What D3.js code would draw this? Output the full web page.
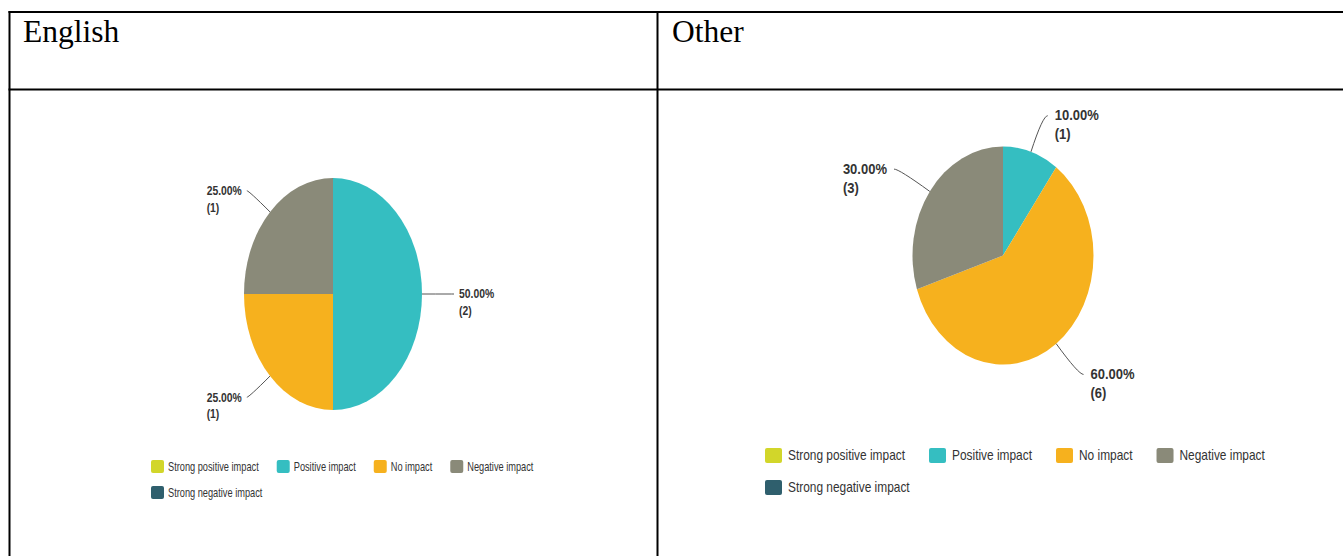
<!DOCTYPE html>
<html>
<head>
<meta charset="utf-8">
<script src="https://cdn.jsdelivr.net/npm/d3@7"></script>
<style>
  body { margin: 0; background: #fff; }
  svg { display: block; }
</style>
</head>
<body>
<svg id="chart" width="1343" height="556"></svg>
<script>
// Response categories, shared by both panels
const categories = ["Strong positive impact", "Positive impact", "No impact", "Negative impact", "Strong negative impact"];
const categoryColors = ["#d2d62a", "#35bec1", "#f6b11e", "#8a8a79", "#2f5f6d"];

// Panel headings
const panelTitles = ["English", "Other"];

// Response counts per category
const englishCounts = [0, 2, 1, 1, 0];
const otherCounts = [0, 1, 6, 3, 0];

const svg = d3.select("#chart");

// ---- table frame ----
const frame = svg.append("g").attr("stroke", "#000").attr("fill", "none");
frame.append("line").attr("x1", 8.5).attr("x2", 1343).attr("y1", 12).attr("y2", 12).attr("stroke-width", 2);
frame.append("line").attr("x1", 8.5).attr("x2", 1343).attr("y1", 89.5).attr("y2", 89.5).attr("stroke-width", 2);
frame.append("line").attr("x1", 9.5).attr("x2", 9.5).attr("y1", 11).attr("y2", 556).attr("stroke-width", 2);
frame.append("line").attr("x1", 657.5).attr("x2", 657.5).attr("y1", 11).attr("y2", 556).attr("stroke-width", 2);

// headings
const headX = [23, 672];
panelTitles.forEach((t, i) => {
  svg.append("text")
    .attr("x", headX[i]).attr("y", 42)
    .attr("font-family", "'Liberation Serif', 'Times New Roman', serif")
    .attr("font-size", 31.5)
    .attr("fill", "#000")
    .text(t);
});

// ---- panel settings ----
const panels = [
  {
    counts: englishCounts,
    cx: 333, cy: 294, rx: 89, ry: 116,
    ext: 30, elbowRun: 2, textGap: 5,
    labelSize: 12.5, labelScale: 0.83, labelLineGap: 16.5,
    legendX: 151, legendY: [466.5, 492.5], legendMaxX: 555,
    swW: 13, swH: 13, swTextGap: 4, itemGap: 18,
    legendSize: 12, legendScale: 0.77
  },
  {
    counts: otherCounts,
    cx: 1003, cy: 255.5, rx: 90.5, ry: 109,
    ext: 38, elbowRun: 5, textGap: 7,
    labelSize: 14, labelScale: 0.93, labelLineGap: 19,
    legendX: 765, legendY: [455.5, 487.5], legendMaxX: 1290,
    swW: 17, swH: 15, swTextGap: 6, itemGap: 24,
    legendSize: 14, legendScale: 0.85
  }
];

const sansFont = "'Liberation Sans', Arial, sans-serif";

panels.forEach(p => {
  const data = categories.map((c, i) => ({ name: c, value: p.counts[i], color: categoryColors[i] }));
  const total = d3.sum(data, d => d.value);

  const pie = d3.pie().sort(null).value(d => d.value).startAngle(0).endAngle(2 * Math.PI);
  const arcs = pie(data);
  const arc = d3.arc().innerRadius(0).outerRadius(p.ry);

  // pie body, drawn on a circle and squeezed horizontally to an ellipse
  svg.append("g")
    .attr("transform", `translate(${p.cx},${p.cy}) scale(${p.rx / p.ry},1)`)
    .selectAll("path")
    .data(arcs.filter(a => a.value > 0))
    .join("path")
    .attr("d", arc)
    .attr("fill", d => d.data.color);

  // leader lines and value labels
  const labels = svg.append("g");
  arcs.filter(a => a.value > 0).forEach(a => {
    const mid = (a.startAngle + a.endAngle) / 2;
    const s = Math.sin(mid), c = Math.cos(mid);
    const p0 = [p.cx + p.rx * s, p.cy - p.ry * c];
    const elbow = [p.cx + (p.rx + p.ext) * s, p.cy - (p.ry + p.ext) * c];
    const side = s >= 0 ? 1 : -1;
    const end = [elbow[0] + side * p.elbowRun, elbow[1]];

    const path = d3.path();
    path.moveTo(p0[0], p0[1]);
    path.quadraticCurveTo(elbow[0], elbow[1], end[0], end[1]);
    labels.append("path")
      .attr("d", path.toString())
      .attr("fill", "none")
      .attr("stroke", "#555")
      .attr("stroke-width", 1);

    const pct = (a.value / total * 100).toFixed(2) + "%";
    const lines = [pct, `(${a.value})`];
    const block = labels.append("g");
    const texts = lines.map((t, k) =>
      block.append("text")
        .attr("y", k * p.labelLineGap)
        .attr("dominant-baseline", "central")
        .attr("font-family", sansFont)
        .attr("font-weight", "bold")
        .attr("font-size", p.labelSize)
        .attr("fill", "#333")
        .text(t)
    );
    const w = d3.max(texts, t => t.node().getComputedTextLength()) * p.labelScale;
    const tx = side > 0 ? end[0] + p.textGap : end[0] - p.textGap - w;
    block.attr("transform", `translate(${tx},${end[1]}) scale(${p.labelScale},1)`);
  });

  // legend, flowing left to right and wrapping
  const legend = svg.append("g");
  let x = p.legendX, row = 0;
  data.forEach(d => {
    const item = legend.append("g");
    item.append("rect")
      .attr("width", p.swW).attr("height", p.swH)
      .attr("y", -p.swH / 2)
      .attr("rx", 2).attr("ry", 2)
      .attr("fill", d.color);
    const txt = item.append("text")
      .attr("dominant-baseline", "central")
      .attr("font-family", sansFont)
      .attr("font-size", p.legendSize)
      .attr("fill", "#333")
      .attr("transform", `translate(${p.swW + p.swTextGap},0) scale(${p.legendScale},1)`)
      .text(d.name);
    const itemW = p.swW + p.swTextGap + txt.node().getComputedTextLength() * p.legendScale;
    if (x + itemW > p.legendMaxX && x > p.legendX) { row += 1; x = p.legendX; }
    item.attr("transform", `translate(${x},${p.legendY[row]})`);
    x += itemW + p.itemGap;
  });
});
</script>
</body>
</html>
